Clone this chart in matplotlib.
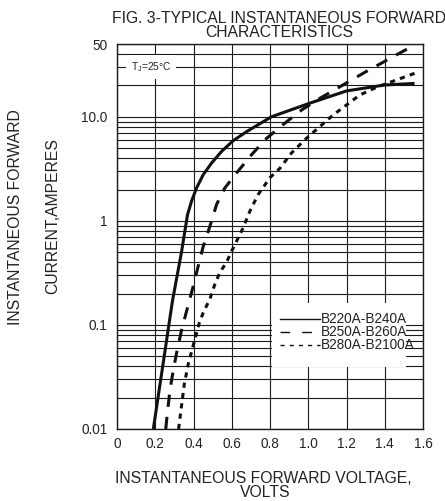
import matplotlib
matplotlib.use("Agg")
import matplotlib.pyplot as plt
from matplotlib.patches import Rectangle

plt.rcParams['font.family'] = ['Liberation Sans', 'DejaVu Sans']
plt.rcParams['mathtext.fontset'] = 'custom'
plt.rcParams['mathtext.rm'] = 'Liberation Sans'

# ---- data ----
v_220 = [0.19, 0.29, 0.338, 0.355, 0.369, 0.39, 0.416, 0.451, 0.495, 0.547, 0.608, 0.678,
         0.808, 1.008, 1.2, 1.4, 1.556]
i_220 = [0.01, 0.17, 0.51, 0.80, 1.15, 1.55, 2.07, 2.78, 3.6, 4.65, 5.9, 7.2,
         10.0, 13.5, 17.7, 20.2, 20.9]

v_250 = [0.255, 0.263, 0.277, 0.294, 0.315, 0.338, 0.368, 0.396, 0.425, 0.451, 0.486, 0.521,
         0.564, 0.625, 0.704, 0.782, 0.868, 0.965, 1.06, 1.3, 1.556]
i_250 = [0.01, 0.0141, 0.0236, 0.0366, 0.0578, 0.0898, 0.145, 0.226, 0.37, 0.57, 0.89, 1.44,
         2.07, 2.88, 4.33, 6.2, 8.4, 11.6, 15.0, 27.0, 49.0]

v_280 = [0.322, 0.338, 0.352, 0.373, 0.402, 0.43, 0.45, 0.486, 0.512, 0.538, 0.573, 0.599,
         0.66, 0.695, 0.738, 0.80, 0.852, 0.913, 0.99, 1.13, 1.27, 1.36, 1.565]
i_280 = [0.01, 0.017, 0.027, 0.0425, 0.067, 0.104, 0.13, 0.178, 0.247, 0.32, 0.4, 0.51,
         0.86, 1.24, 1.79, 2.6, 3.2, 4.5, 6.2, 10.4, 16.2, 19.3, 26.5]

series_labels = ['B220A-B240A', 'B250A-B260A', 'B280A-B2100A']

x_ticks = [0, 0.2, 0.4, 0.6, 0.8, 1.0, 1.2, 1.4, 1.6]
x_tick_labels = ['0', '0.2', '0.4', '0.6', '0.8', '1.0', '1.2', '1.4', '1.6']
y_ticks = [0.01, 0.1, 1, 10, 50]
y_tick_labels = ['0.01', '0.1', '1', '10.0', '50']
y_minor = [0.02, 0.03, 0.04, 0.05, 0.06, 0.07, 0.08, 0.09,
           0.2, 0.3, 0.4, 0.5, 0.6, 0.7, 0.8, 0.9,
           2, 3, 4, 5, 6, 7, 8, 9, 20, 30, 40]

fig = plt.figure(figsize=(4.45, 5.01), dpi=100)
ax = fig.add_axes([117 / 445, 72 / 501, 306 / 445, 385 / 501])
ax.set_yscale('log')
ax.set_xlim(0, 1.6)
ax.set_ylim(0.01, 50)

ax.set_xticks(x_ticks)
ax.set_xticklabels(x_tick_labels)
ax.set_yticks(y_ticks)
ax.set_yticklabels(y_tick_labels)
ax.set_yticks(y_minor, minor=True)
ax.yaxis.set_minor_formatter(plt.NullFormatter())
ax.tick_params(which='both', length=0, labelsize=9.8, colors='#222222')
ax.tick_params(axis='x', pad=6)
ax.tick_params(axis='y', pad=7)

ax.grid(True, which='both', color='#1a1a1a', linewidth=0.8)
ax.set_axisbelow(True)
for s in ax.spines.values():
    s.set_linewidth(1.0)
    s.set_color('#1a1a1a')

lw = 2.2
ax.plot(v_220, i_220, color='#111111', lw=lw, solid_capstyle='butt', zorder=5)
ax.plot(v_250, i_250, color='#111111', lw=lw, dashes=(4, 3.3), zorder=5)
ax.plot(v_280, i_280, color='#111111', lw=lw, dashes=(1.7, 1.7), zorder=5)

# Tj label sitting on the 30 A line
ax.text(0.178, 30, r'T$_{\rm J}$=25°C', fontsize=7.3, ha='center', va='center',
        color='#222222', bbox=dict(facecolor='white', edgecolor='none', pad=3.5), zorder=4)

# legend box
ax.add_patch(Rectangle((0.506, 0.161), 0.438, 0.166, transform=ax.transAxes,
                       facecolor='white', edgecolor='none', zorder=3))
leg_y = [0.2857, 0.251, 0.218]
leg_dash = [None, (7, 8.6), (3, 3.6)]
for yy, lab, d in zip(leg_y, series_labels, leg_dash):
    ln, = ax.plot([0.533, 0.663], [yy, yy], transform=ax.transAxes,
                  color='#111111', lw=1.0, zorder=4)
    if d is not None:
        ln.set_dashes(d)
    ax.text(0.667, yy, lab, transform=ax.transAxes, fontsize=9.8,
            ha='left', va='center', color='#222222', zorder=4)

# titles and axis labels
fs = 11.3
fig.text(279 / 445, 1 - 22.7 / 501, 'FIG. 3-TYPICAL INSTANTANEOUS FORWARD',
         ha='center', va='baseline', fontsize=fs, color='#222222')
fig.text(279 / 445, 1 - 36.7 / 501, 'CHARACTERISTICS',
         ha='center', va='baseline', fontsize=fs, color='#222222')
fig.text(15.5 / 445, 1 - 217 / 501, 'INSTANTANEOUS FORWARD', rotation=90,
         ha='center', va='center', fontsize=fs, color='#222222')
fig.text(52.5 / 445, 1 - 216 / 501, 'CURRENT,AMPERES', rotation=90,
         ha='center', va='center', fontsize=fs, color='#222222')
fig.text(263.5 / 445, 1 - 483 / 501, 'INSTANTANEOUS FORWARD VOLTAGE,',
         ha='center', va='baseline', fontsize=fs, color='#222222')
fig.text(265 / 445, 1 - 497 / 501, 'VOLTS',
         ha='center', va='baseline', fontsize=fs, color='#222222')

fig.savefig('out.png', dpi=100, facecolor='white')
